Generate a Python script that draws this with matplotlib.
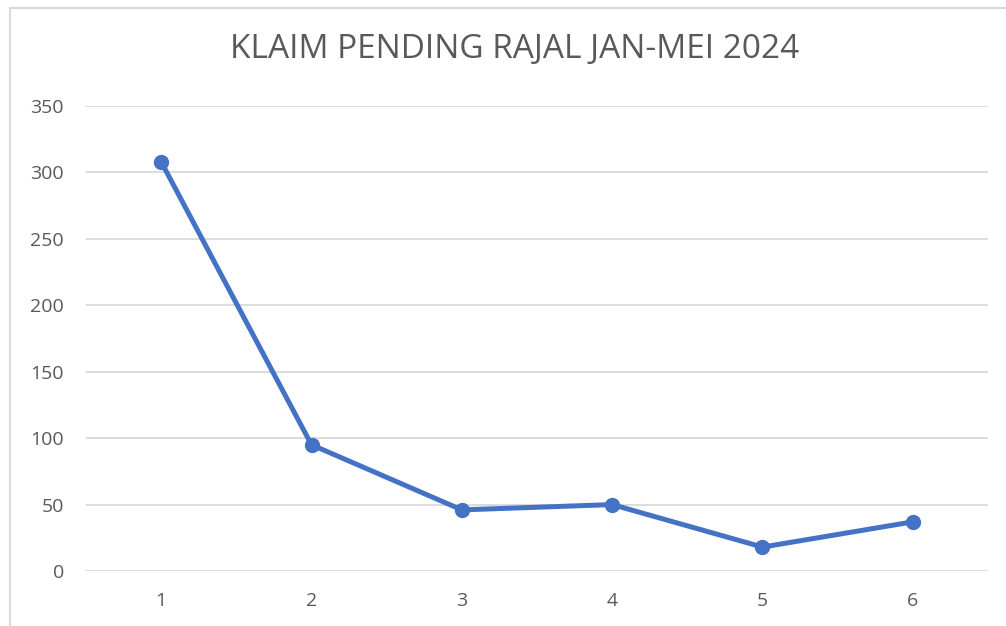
import matplotlib
matplotlib.use('Agg')
import matplotlib.pyplot as plt
from matplotlib.patches import Rectangle

# data
bulan = [1, 2, 3, 4, 5, 6]
klaim_pending = [308, 95, 46, 50, 18, 37]
yticks = [0, 50, 100, 150, 200, 250, 300, 350]
judul = 'KLAIM PENDING RAJAL JAN-MEI 2024'

plt.rcParams['font.family'] = ['Open Sans', 'DejaVu Sans']

fig = plt.figure(figsize=(10.06, 6.26), dpi=100)
ax = fig.add_axes([86 / 1006, 55 / 626, 902 / 1006, 465 / 626])

# chart area border (Excel style)
fig.patches.append(Rectangle((10 / 1006, -0.1), 1.2, (626 - 8) / 626 + 0.1,
                             transform=fig.transFigure, fill=False,
                             edgecolor='#D9D9D9', linewidth=1.5))

ax.plot(bulan, klaim_pending, color='#4472C4', linewidth=3.6,
        marker='o', markersize=10, zorder=3)

ax.set_xlim(0.5, 6.5)
ax.set_ylim(0, 350)
ax.set_xticks(bulan)
ax.set_yticks(yticks)
ax.yaxis.grid(True, color='#D9D9D9', linewidth=1.3)
ax.set_axisbelow(True)
for s in ax.spines.values():
    s.set_visible(False)
ax.tick_params(axis='both', length=0, labelsize=14, labelcolor='#595959')
ax.tick_params(axis='y', pad=16)
ax.tick_params(axis='x', pad=15)

fig.text(515 / 1006, 1 - 50 / 626, judul, ha='center', va='center',
         fontsize=24, color='#595959')

fig.savefig('out.png', dpi=100)
